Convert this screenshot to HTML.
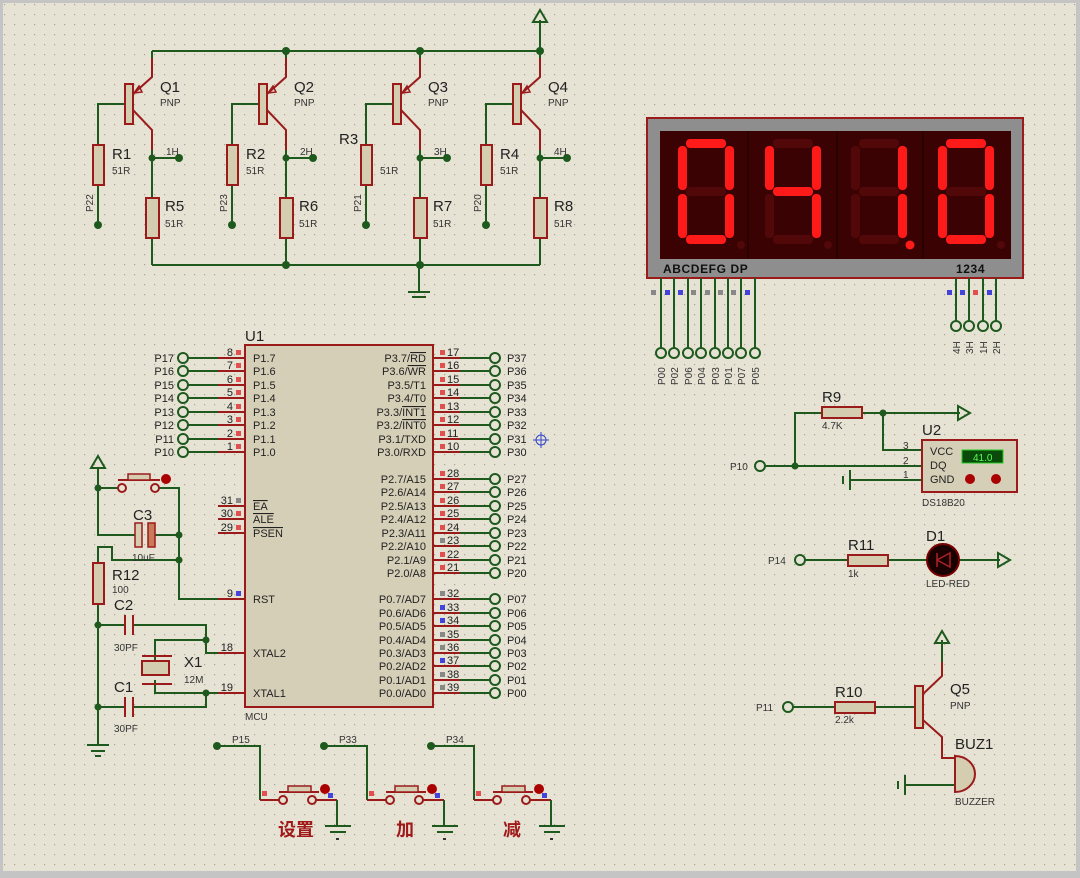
<!DOCTYPE html>
<html><head><meta charset="utf-8"><style>
html,body{margin:0;padding:0;background:#c8c8c8;}
svg{display:block;font-family:"Liberation Sans","Noto Sans CJK SC",sans-serif;}
.w{stroke:#1e5a1e;stroke-width:2;fill:none}
.r{stroke:#9b1b1b;stroke-width:2;fill:none}
.b{fill:#d5cdb0;stroke:#9b1b1b;stroke-width:2}
.d{fill:#1e5a1e}
.t{fill:#222;font-size:11px}
.L{fill:#222;font-size:15px}
.s{fill:#333;font-size:10px}
.on{fill:#ff1a1a}
.off{fill:#520808}
</style></head><body>
<svg width="1080" height="878" viewBox="0 0 1080 878" xmlns="http://www.w3.org/2000/svg">
<defs>
<pattern id="g" width="10" height="10" patternUnits="userSpaceOnUse"><rect x="4" y="4" width="1.2" height="1.2" fill="#a9a48f"/></pattern>
<g id="tr">
 <path class="w" d="M-54 225V185M-54 145V104H-27"/>
 <rect class="b" x="-59" y="145" width="11" height="40"/>
 <rect class="b" x="-27" y="84" width="8" height="40"/>
 <path class="r" d="M-19 94L0 77V58M-19 110L0 130V150"/>
 <path fill="none" stroke="#9b1b1b" stroke-width="1.5" d="M-18 93l8 -1 -3 -6z"/>
 <path class="w" d="M0 51V58M0 150V198M0 238V265M0 158H27"/>
 <rect class="b" x="-6" y="198" width="13" height="40"/>
 <circle class="d" cx="0" cy="158" r="3.5"/><circle class="d" cx="27" cy="158" r="4"/><circle class="d" cx="-54" cy="225" r="4"/>
</g>
<g id="btn">
 <path class="w" d="M0 0H43V54"/>
 <circle class="d" cx="0" cy="0" r="4"/>
 <path class="r" d="M43 54H62M99 54H120"/>
 <circle cx="66" cy="54" r="4" fill="#e6e3d5" stroke="#9b1b1b" stroke-width="2"/>
 <circle cx="95" cy="54" r="4" fill="#e6e3d5" stroke="#9b1b1b" stroke-width="2"/>
 <path class="r" d="M62 46H102"/><rect x="71" y="40" width="23" height="6" fill="#d5cdb0" stroke="#9b1b1b" stroke-width="1.5"/>
 <circle cx="108" cy="43" r="5" fill="#a00"/>
 <rect x="45" y="45" width="5" height="5" fill="#e05050"/><rect x="111" y="47" width="5" height="5" fill="#4444dd"/>
 <path class="w" d="M120 54V80M108 80H134M113 86H129"/>
 <rect x="119" y="92" width="3" height="2" fill="#333"/>
</g>
</defs>
<rect x="0" y="0" width="1080" height="878" fill="#c4c4c4"/>
<rect x="3" y="3" width="1073" height="868" fill="#e6e3d5"/>
<rect x="3" y="3" width="1073" height="868" fill="url(#g)"/>

<!-- top transistors -->
<path class="w" d="M152 51H540M540 51V20M152 265H540M419 265V292M408 292H430M412 297H426"/>
<path d="M533 22L540 10L547 22Z" fill="none" stroke="#1e5a1e" stroke-width="2"/>
<circle class="d" cx="286" cy="51" r="4"/><circle class="d" cx="420" cy="51" r="4"/><circle class="d" cx="540" cy="51" r="4"/>
<circle class="d" cx="286" cy="265" r="4"/><circle class="d" cx="420" cy="265" r="4"/>
<use href="#tr" x="152"/><use href="#tr" x="286"/><use href="#tr" x="420"/><use href="#tr" x="540"/>
<text class="L" x="160" y="92">Q1</text><text class="s" x="160" y="106">PNP</text>
<text class="L" x="294" y="92">Q2</text><text class="s" x="294" y="106">PNP</text>
<text class="L" x="428" y="92">Q3</text><text class="s" x="428" y="106">PNP</text>
<text class="L" x="548" y="92">Q4</text><text class="s" x="548" y="106">PNP</text>
<text class="L" x="112" y="159">R1</text><text class="s" x="112" y="174">51R</text>
<text class="L" x="246" y="159">R2</text><text class="s" x="246" y="174">51R</text>
<text class="L" x="339" y="144">R3</text><text class="s" x="380" y="174">51R</text>
<text class="L" x="500" y="159">R4</text><text class="s" x="500" y="174">51R</text>
<text class="L" x="165" y="211">R5</text><text class="s" x="165" y="227">51R</text>
<text class="L" x="299" y="211">R6</text><text class="s" x="299" y="227">51R</text>
<text class="L" x="433" y="211">R7</text><text class="s" x="433" y="227">51R</text>
<text class="L" x="554" y="211">R8</text><text class="s" x="554" y="227">51R</text>
<text class="s" x="166" y="155">1H</text><text class="s" x="300" y="155">2H</text><text class="s" x="434" y="155">3H</text><text class="s" x="554" y="155">4H</text>
<text class="s" transform="translate(93,212) rotate(-90)">P22</text>
<text class="s" transform="translate(227,212) rotate(-90)">P23</text>
<text class="s" transform="translate(361,212) rotate(-90)">P21</text>
<text class="s" transform="translate(481,212) rotate(-90)">P20</text>

<!-- display -->
<rect x="647" y="118" width="376" height="160" fill="#8e8e8e" stroke="#9b1b1b" stroke-width="2"/>
<rect x="660" y="131" width="351" height="128" fill="#3a0202"/>
<path d="M748 131V259M837 131V259M923 131V259" stroke="#2a0101" stroke-width="2"/>
<g transform="translate(678,0)">
<rect class="on" x="8" y="139" width="40" height="9" rx="4"/><rect class="on" x="47" y="146" width="9" height="44" rx="4"/><rect class="on" x="47" y="194" width="9" height="44" rx="4"/><rect class="on" x="8" y="235" width="40" height="9" rx="4"/><rect class="on" x="0" y="194" width="9" height="44" rx="4"/><rect class="on" x="0" y="146" width="9" height="44" rx="4"/><rect class="off" x="8" y="187" width="40" height="9" rx="4"/><circle class="off" cx="63" cy="245" r="4"/>
</g>
<g transform="translate(765,0)">
<rect class="off" x="8" y="139" width="40" height="9" rx="4"/><rect class="on" x="47" y="146" width="9" height="44" rx="4"/><rect class="on" x="47" y="194" width="9" height="44" rx="4"/><rect class="off" x="8" y="235" width="40" height="9" rx="4"/><rect class="off" x="0" y="194" width="9" height="44" rx="4"/><rect class="on" x="0" y="146" width="9" height="44" rx="4"/><rect class="on" x="8" y="187" width="40" height="9" rx="4"/><circle class="off" cx="63" cy="245" r="4"/>
</g>
<g transform="translate(851,0)">
<rect class="off" x="8" y="139" width="40" height="9" rx="4"/><rect class="on" x="47" y="146" width="9" height="44" rx="4"/><rect class="on" x="47" y="194" width="9" height="44" rx="4"/><rect class="off" x="8" y="235" width="40" height="9" rx="4"/><rect class="off" x="0" y="194" width="9" height="44" rx="4"/><rect class="off" x="0" y="146" width="9" height="44" rx="4"/><rect class="off" x="8" y="187" width="40" height="9" rx="4"/><circle class="on" cx="59" cy="245" r="4.5"/>
</g>
<g transform="translate(938,0)">
<rect class="on" x="8" y="139" width="40" height="9" rx="4"/><rect class="on" x="47" y="146" width="9" height="44" rx="4"/><rect class="on" x="47" y="194" width="9" height="44" rx="4"/><rect class="on" x="8" y="235" width="40" height="9" rx="4"/><rect class="on" x="0" y="194" width="9" height="44" rx="4"/><rect class="on" x="0" y="146" width="9" height="44" rx="4"/><rect class="off" x="8" y="187" width="40" height="9" rx="4"/><circle class="off" cx="63" cy="245" r="4"/>
</g>
<text x="663" y="273" font-size="12" font-weight="bold" fill="#111" letter-spacing="0.6">ABCDEFG  DP</text>
<text x="956" y="273" font-size="12" font-weight="bold" fill="#111" letter-spacing="0.6">1234</text>
<path class="w" d="M661 278V348M674 278V348M688 278V348M701 278V348M715 278V348M728 278V348M741 278V348M755 278V348M956 278V321M969 278V321M983 278V321M996 278V321"/>
<g fill="#e6e3d5" stroke="#1e5a1e" stroke-width="2">
<circle cx="661" cy="353" r="5"/><circle cx="674" cy="353" r="5"/><circle cx="688" cy="353" r="5"/><circle cx="701" cy="353" r="5"/><circle cx="715" cy="353" r="5"/><circle cx="728" cy="353" r="5"/><circle cx="741" cy="353" r="5"/><circle cx="755" cy="353" r="5"/>
<circle cx="956" cy="326" r="5"/><circle cx="969" cy="326" r="5"/><circle cx="983" cy="326" r="5"/><circle cx="996" cy="326" r="5"/>
</g>
<g font-size="10" fill="#333">
<text transform="translate(665,385) rotate(-90)">P00</text><text transform="translate(678,385) rotate(-90)">P02</text><text transform="translate(692,385) rotate(-90)">P06</text><text transform="translate(705,385) rotate(-90)">P04</text><text transform="translate(719,385) rotate(-90)">P03</text><text transform="translate(732,385) rotate(-90)">P01</text><text transform="translate(745,385) rotate(-90)">P07</text><text transform="translate(759,385) rotate(-90)">P05</text>
<text transform="translate(960,354) rotate(-90)">4H</text><text transform="translate(973,354) rotate(-90)">3H</text><text transform="translate(987,354) rotate(-90)">1H</text><text transform="translate(1000,354) rotate(-90)">2H</text>
</g>
<g fill="#888"><rect x="651" y="290" width="5" height="5"/><rect x="691" y="290" width="5" height="5"/><rect x="705" y="290" width="5" height="5"/><rect x="718" y="290" width="5" height="5"/><rect x="731" y="290" width="5" height="5"/></g>
<g fill="#4444dd"><rect x="665" y="290" width="5" height="5"/><rect x="678" y="290" width="5" height="5"/><rect x="745" y="290" width="5" height="5"/><rect x="947" y="290" width="5" height="5"/><rect x="960" y="290" width="5" height="5"/><rect x="987" y="290" width="5" height="5"/></g>
<rect x="973" y="290" width="5" height="5" fill="#e05050"/>

<!-- MCU -->
<text class="L" x="245" y="341">U1</text>
<rect x="245" y="345" width="188" height="362" fill="#d6cfb8" stroke="#9b1b1b" stroke-width="2"/>
<text class="s" x="245" y="720">MCU</text>
<g class="r">
<path d="M218 358H245M218 371H245M218 385H245M218 398H245M218 412H245M218 425H245M218 439H245M218 452H245M218 506H245M218 519H245M218 533H245M218 599H245M218 653H245M218 693H245"/>
<path d="M433 358H460M433 371H460M433 385H460M433 398H460M433 412H460M433 425H460M433 439H460M433 452H460M433 479H460M433 492H460M433 506H460M433 519H460M433 533H460M433 546H460M433 560H460M433 573H460M433 599H460M433 613H460M433 626H460M433 640H460M433 653H460M433 666H460M433 680H460M433 693H460"/>
</g>
<path class="w" d="M188 358H218M188 371H218M188 385H218M188 398H218M188 412H218M188 425H218M188 439H218M188 452H218"/>
<path class="w" d="M460 358H490M460 371H490M460 385H490M460 398H490M460 412H490M460 425H490M460 439H490M460 452H490M460 479H490M460 492H490M460 506H490M460 519H490M460 533H490M460 546H490M460 560H490M460 573H490M460 599H490M460 613H490M460 626H490M460 640H490M460 653H490M460 666H490M460 680H490M460 693H490"/>
<g fill="#e6e3d5" stroke="#1e5a1e" stroke-width="2">
<circle cx="183" cy="358" r="5"/><circle cx="183" cy="371" r="5"/><circle cx="183" cy="385" r="5"/><circle cx="183" cy="398" r="5"/><circle cx="183" cy="412" r="5"/><circle cx="183" cy="425" r="5"/><circle cx="183" cy="439" r="5"/><circle cx="183" cy="452" r="5"/>
<circle cx="495" cy="358" r="5"/><circle cx="495" cy="371" r="5"/><circle cx="495" cy="385" r="5"/><circle cx="495" cy="398" r="5"/><circle cx="495" cy="412" r="5"/><circle cx="495" cy="425" r="5"/><circle cx="495" cy="439" r="5"/><circle cx="495" cy="452" r="5"/>
<circle cx="495" cy="479" r="5"/><circle cx="495" cy="492" r="5"/><circle cx="495" cy="506" r="5"/><circle cx="495" cy="519" r="5"/><circle cx="495" cy="533" r="5"/><circle cx="495" cy="546" r="5"/><circle cx="495" cy="560" r="5"/><circle cx="495" cy="573" r="5"/>
<circle cx="495" cy="599" r="5"/><circle cx="495" cy="613" r="5"/><circle cx="495" cy="626" r="5"/><circle cx="495" cy="640" r="5"/><circle cx="495" cy="653" r="5"/><circle cx="495" cy="666" r="5"/><circle cx="495" cy="680" r="5"/><circle cx="495" cy="693" r="5"/>
</g>
<g class="t" text-anchor="end">
<text x="174" y="362">P17</text><text x="174" y="375">P16</text><text x="174" y="389">P15</text><text x="174" y="402">P14</text><text x="174" y="416">P13</text><text x="174" y="429">P12</text><text x="174" y="443">P11</text><text x="174" y="456">P10</text>
<text x="233" y="356">8</text><text x="233" y="369">7</text><text x="233" y="383">6</text><text x="233" y="396">5</text><text x="233" y="410">4</text><text x="233" y="423">3</text><text x="233" y="437">2</text><text x="233" y="450">1</text>
<text x="233" y="504">31</text><text x="233" y="517">30</text><text x="233" y="531">29</text><text x="233" y="597">9</text><text x="233" y="651">18</text><text x="233" y="691">19</text>
<text x="426" y="362">P3.7/<tspan text-decoration="overline">RD</tspan></text><text x="426" y="375">P3.6/<tspan text-decoration="overline">WR</tspan></text><text x="426" y="389">P3.5/T1</text><text x="426" y="402">P3.4/T0</text><text x="426" y="416">P3.3/<tspan text-decoration="overline">INT1</tspan></text><text x="426" y="429">P3.2/<tspan text-decoration="overline">INT0</tspan></text><text x="426" y="443">P3.1/TXD</text><text x="426" y="456">P3.0/RXD</text>
<text x="426" y="483">P2.7/A15</text><text x="426" y="496">P2.6/A14</text><text x="426" y="510">P2.5/A13</text><text x="426" y="523">P2.4/A12</text><text x="426" y="537">P2.3/A11</text><text x="426" y="550">P2.2/A10</text><text x="426" y="564">P2.1/A9</text><text x="426" y="577">P2.0/A8</text>
<text x="426" y="603">P0.7/AD7</text><text x="426" y="617">P0.6/AD6</text><text x="426" y="630">P0.5/AD5</text><text x="426" y="644">P0.4/AD4</text><text x="426" y="657">P0.3/AD3</text><text x="426" y="670">P0.2/AD2</text><text x="426" y="684">P0.1/AD1</text><text x="426" y="697">P0.0/AD0</text>
</g>
<g class="t">
<text x="253" y="362">P1.7</text><text x="253" y="375">P1.6</text><text x="253" y="389">P1.5</text><text x="253" y="402">P1.4</text><text x="253" y="416">P1.3</text><text x="253" y="429">P1.2</text><text x="253" y="443">P1.1</text><text x="253" y="456">P1.0</text>
<text x="253" y="510" text-decoration="overline">EA</text><text x="253" y="523" text-decoration="overline">ALE</text><text x="253" y="537" text-decoration="overline">PSEN</text>
<text x="253" y="603">RST</text><text x="253" y="657">XTAL2</text><text x="253" y="697">XTAL1</text>
<text x="447" y="356">17</text><text x="447" y="369">16</text><text x="447" y="383">15</text><text x="447" y="396">14</text><text x="447" y="410">13</text><text x="447" y="423">12</text><text x="447" y="437">11</text><text x="447" y="450">10</text>
<text x="447" y="477">28</text><text x="447" y="490">27</text><text x="447" y="504">26</text><text x="447" y="517">25</text><text x="447" y="531">24</text><text x="447" y="544">23</text><text x="447" y="558">22</text><text x="447" y="571">21</text>
<text x="447" y="597">32</text><text x="447" y="611">33</text><text x="447" y="624">34</text><text x="447" y="638">35</text><text x="447" y="651">36</text><text x="447" y="664">37</text><text x="447" y="678">38</text><text x="447" y="691">39</text>
<text x="507" y="362">P37</text><text x="507" y="375">P36</text><text x="507" y="389">P35</text><text x="507" y="402">P34</text><text x="507" y="416">P33</text><text x="507" y="429">P32</text><text x="507" y="443">P31</text><text x="507" y="456">P30</text>
<text x="507" y="483">P27</text><text x="507" y="496">P26</text><text x="507" y="510">P25</text><text x="507" y="523">P24</text><text x="507" y="537">P23</text><text x="507" y="550">P22</text><text x="507" y="564">P21</text><text x="507" y="577">P20</text>
<text x="507" y="603">P07</text><text x="507" y="617">P06</text><text x="507" y="630">P05</text><text x="507" y="644">P04</text><text x="507" y="657">P03</text><text x="507" y="670">P02</text><text x="507" y="684">P01</text><text x="507" y="697">P00</text>
</g>
<g fill="#e05050"><rect x="236" y="350" width="5" height="5"/><rect x="236" y="363" width="5" height="5"/><rect x="236" y="377" width="5" height="5"/><rect x="236" y="390" width="5" height="5"/><rect x="236" y="404" width="5" height="5"/><rect x="236" y="417" width="5" height="5"/><rect x="236" y="431" width="5" height="5"/><rect x="236" y="444" width="5" height="5"/><rect x="236" y="511" width="5" height="5"/><rect x="236" y="525" width="5" height="5"/>
<rect x="440" y="350" width="5" height="5"/><rect x="440" y="363" width="5" height="5"/><rect x="440" y="377" width="5" height="5"/><rect x="440" y="390" width="5" height="5"/><rect x="440" y="404" width="5" height="5"/><rect x="440" y="417" width="5" height="5"/><rect x="440" y="431" width="5" height="5"/><rect x="440" y="444" width="5" height="5"/><rect x="440" y="471" width="5" height="5"/><rect x="440" y="484" width="5" height="5"/><rect x="440" y="498" width="5" height="5"/><rect x="440" y="511" width="5" height="5"/><rect x="440" y="525" width="5" height="5"/><rect x="440" y="552" width="5" height="5"/><rect x="440" y="565" width="5" height="5"/></g>
<g fill="#888"><rect x="236" y="498" width="5" height="5"/><rect x="440" y="538" width="5" height="5"/><rect x="440" y="591" width="5" height="5"/><rect x="440" y="632" width="5" height="5"/><rect x="440" y="645" width="5" height="5"/><rect x="440" y="672" width="5" height="5"/><rect x="440" y="685" width="5" height="5"/></g>
<g fill="#4444dd"><rect x="236" y="591" width="5" height="5"/><rect x="440" y="605" width="5" height="5"/><rect x="440" y="618" width="5" height="5"/><rect x="440" y="658" width="5" height="5"/></g>
<g stroke="#3344cc" stroke-width="1" fill="none"><circle cx="541" cy="440" r="5"/><path d="M533 440H549M541 432V448"/></g>

<!-- reset / clock -->
<path class="w" d="M98 468V535H135M98 488H118M159 488H179V599H218M155 535H179M179 560H112V547H98V563M98 604V745M98 625H125M133 625H206V653H218M206 640H155V660M155 680V693H218M98 707H125M133 707H206V693"/>
<path d="M91 468L98 456L105 468Z" fill="none" stroke="#1e5a1e" stroke-width="2"/>
<path class="w" d="M87 745H109M91 751H105M95 756H101"/>
<g class="d"><circle cx="98" cy="488" r="3.5"/><circle cx="179" cy="535" r="3.5"/><circle cx="179" cy="560" r="3.5"/><circle cx="98" cy="625" r="3.5"/><circle cx="206" cy="640" r="3.5"/><circle cx="206" cy="693" r="3.5"/><circle cx="98" cy="707" r="3.5"/></g>
<circle cx="122" cy="488" r="4" fill="#e6e3d5" stroke="#9b1b1b" stroke-width="2"/><circle cx="155" cy="488" r="4" fill="#e6e3d5" stroke="#9b1b1b" stroke-width="2"/>
<path class="r" d="M118 480H160"/><rect x="128" y="474" width="22" height="6" fill="#d5cdb0" stroke="#9b1b1b" stroke-width="1.5"/><circle cx="166" cy="479" r="5" fill="#a00"/>
<rect x="135" y="523" width="7" height="24" fill="#d5cdb0" stroke="#9b1b1b" stroke-width="1.5"/><rect x="148" y="523" width="7" height="24" fill="#c87a5a" stroke="#9b1b1b" stroke-width="1.5"/>
<rect class="b" x="93" y="563" width="11" height="41"/>
<path class="r" d="M125 615V635M133 615V635M125 697V717M133 697V717M142 656H172M142 684H172"/>
<rect class="b" x="142" y="661" width="27" height="14"/>
<text class="L" x="133" y="520">C3</text><text class="s" x="132" y="561">10uF</text>
<text class="L" x="112" y="580">R12</text><text class="s" x="112" y="593">100</text>
<text class="L" x="114" y="610">C2</text><text class="s" x="114" y="651">30PF</text>
<text class="L" x="184" y="667">X1</text><text class="s" x="184" y="683">12M</text>
<text class="L" x="114" y="692">C1</text><text class="s" x="114" y="732">30PF</text>

<!-- buttons -->
<use href="#btn" x="217" y="746"/><use href="#btn" x="324" y="746"/><use href="#btn" x="431" y="746"/>
<text class="s" x="232" y="743">P15</text><text class="s" x="339" y="743">P33</text><text class="s" x="446" y="743">P34</text>
<g fill="#a01818" font-size="18" font-weight="bold" font-family="'Liberation Sans','Noto Sans CJK SC',sans-serif">
<text x="278" y="836">设置</text><text x="396" y="836">加</text><text x="503" y="836">减</text></g>

<!-- DS18B20 -->
<path class="w" d="M765 466H922M795 466V413H822M862 413H960M883 413V450H922M850 480H922"/>
<path d="M958 406L970 413L958 420Z" fill="none" stroke="#1e5a1e" stroke-width="2"/>
<path class="w" d="M850 470V490M843 476V484"/>
<circle class="d" cx="795" cy="466" r="3.5"/><circle class="d" cx="883" cy="413" r="3.5"/>
<circle cx="760" cy="466" r="5" fill="#e6e3d5" stroke="#1e5a1e" stroke-width="2"/>
<rect class="b" x="822" y="407" width="40" height="11"/>
<text class="L" x="822" y="402">R9</text><text class="s" x="822" y="429">4.7K</text>
<text class="s" x="730" y="470">P10</text>
<rect x="922" y="440" width="95" height="52" fill="#d6cfb8" stroke="#9b1b1b" stroke-width="2"/>
<text class="L" x="922" y="435">U2</text>
<text class="s" x="903" y="449">3</text><text class="s" x="903" y="464">2</text><text class="s" x="903" y="478">1</text>
<text class="t" x="930" y="455">VCC</text><text class="t" x="930" y="469">DQ</text><text class="t" x="930" y="483">GND</text>
<rect x="962" y="450" width="41" height="13" fill="#0a4a0a" stroke="#2c2" stroke-width="1"/>
<text x="973" y="461" font-size="10" fill="#5f5">41.0</text>
<circle cx="970" cy="479" r="5" fill="#a00"/><circle cx="996" cy="479" r="5" fill="#a00"/>
<text class="s" x="922" y="506">DS18B20</text>

<!-- LED -->
<path class="w" d="M805 560H848M888 560H927M959 560H1000"/>
<path d="M998 553L1010 560L998 567Z" fill="none" stroke="#1e5a1e" stroke-width="2"/>
<circle cx="800" cy="560" r="5" fill="#e6e3d5" stroke="#1e5a1e" stroke-width="2"/>
<rect class="b" x="848" y="555" width="40" height="11"/>
<circle cx="943" cy="560" r="16" fill="#1a0000" stroke="#700" stroke-width="2"/>
<path d="M950 553V567L937 560Z M937 553V567" stroke="#a22" stroke-width="1.5" fill="none"/>
<text class="s" x="768" y="564">P14</text><text class="L" x="848" y="550">R11</text><text class="s" x="848" y="577">1k</text>
<text class="L" x="926" y="541">D1</text><text class="s" x="926" y="587">LED-RED</text>

<!-- buzzer -->
<path class="w" d="M793 707H835M875 707H915M942 640V662M905 785H955"/>
<path d="M935 643L942 631L949 643Z" fill="none" stroke="#1e5a1e" stroke-width="2"/>
<path class="w" d="M905 775V795M898 781V789"/>
<circle cx="788" cy="707" r="5" fill="#e6e3d5" stroke="#1e5a1e" stroke-width="2"/>
<rect class="b" x="835" y="702" width="40" height="11"/>
<rect class="b" x="915" y="686" width="8" height="42"/>
<path class="r" d="M923 694L942 676V662M923 720L942 737V758H955"/>
<path d="M955 756A20 18 0 0 1 955 792Z" fill="#d5cdb0" stroke="#9b1b1b" stroke-width="2"/>
<text class="s" x="756" y="711">P11</text><text class="L" x="835" y="697">R10</text><text class="s" x="835" y="723">2.2k</text>
<text class="L" x="950" y="694">Q5</text><text class="s" x="950" y="709">PNP</text>
<text class="L" x="955" y="749">BUZ1</text><text class="s" x="955" y="805">BUZZER</text>
</svg>
</body></html>
